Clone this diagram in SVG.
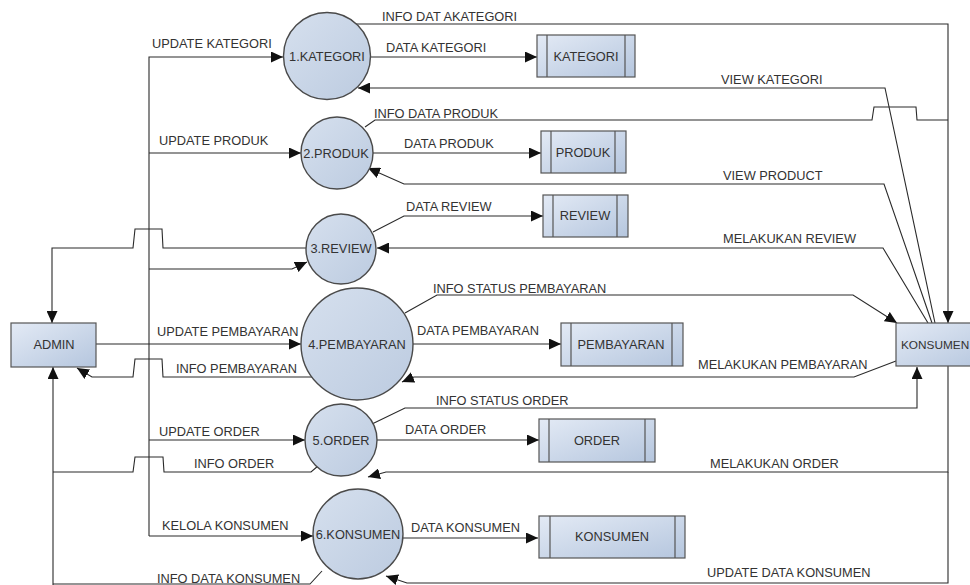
<svg xmlns="http://www.w3.org/2000/svg" width="970" height="585" viewBox="0 0 970 585">
  <defs>
    <linearGradient id="fillBox" x1="0" y1="0" x2="1" y2="1">
      <stop offset="0" stop-color="#e3eaf5"/>
      <stop offset="1" stop-color="#b5c6de"/>
    </linearGradient>
    <linearGradient id="fillProc" x1="0" y1="0" x2="1" y2="1">
      <stop offset="0" stop-color="#d6e0ee"/>
      <stop offset="1" stop-color="#bccbe0"/>
    </linearGradient>
    <marker id="arrow" markerUnits="userSpaceOnUse" markerWidth="13" markerHeight="11" refX="12" refY="5.5" orient="auto">
      <path d="M0,0 L12,5.5 L0,11 z" fill="#111"/>
    </marker>
    <style>
      .proc { fill: url(#fillProc); stroke: #4a4a4a; stroke-width: 1.4; }
      .ent { fill: url(#fillBox); stroke: #555; stroke-width: 1.2; }
      .store { fill: url(#fillBox); stroke: #555; stroke-width: 1.2; }
      .div { stroke: #555; stroke-width: 1.2; fill: none; }
      .flow { fill: none; stroke: #2a2a2a; stroke-width: 1.1; }
      .arr { marker-end: url(#arrow); }
      text { font-family: "Liberation Sans", Arial, sans-serif; font-size: 12.8px; fill: #333; }
      .c { text-anchor: middle; }
    </style>
  </defs>

  <rect width="970" height="585" fill="#fff"/>

  <!-- data flows -->
  <g id="connectors">
    <!-- admin side -->
    <path class="flow arr" d="M149,536 V57 H283"/>
    <path class="flow arr" d="M149,153 H301"/>
    <path class="flow arr" d="M149,269 H292 L307,262"/>
    <path class="flow arr" d="M149,440 H305"/>
    <path class="flow arr" d="M149,536 H313"/>
    <path class="flow arr" d="M96,344 H301"/>
    <path class="flow arr" d="M306,248 H163 L162,229 H135 L133,248 H52 V323"/>
    <path class="flow arr" d="M312,377 H163 L162,359 H135 L133,377 H92 L77,368"/>
    <path class="flow" d="M318,466 L311,472 H164 L163,457 H135 L133,472 H53"/>
    <path class="flow" d="M322,571 L310,584 H53"/>
    <path class="flow arr" d="M53,585 V367"/>

    <!-- process to store -->
    <path class="flow arr" d="M370,57 H537"/>
    <path class="flow arr" d="M373,153 H541"/>
    <path class="flow arr" d="M373,232 L404,216 H543"/>
    <path class="flow arr" d="M413,344 H561"/>
    <path class="flow arr" d="M377,440 H539"/>
    <path class="flow arr" d="M403,538 H538"/>

    <!-- konsumen side -->
    <path class="flow arr" d="M356,24 H948 V323"/>
    <path class="flow arr" d="M935,323 L885,88 H358"/>
    <path class="flow" d="M365,127 L375,120 H872 L874,107 H916 L917,120 H948"/>
    <path class="flow arr" d="M932,323 L884,184 H404 L368,168"/>
    <path class="flow arr" d="M928,323 L883,248 H377"/>
    <path class="flow arr" d="M405,313 L437,295 H853 L897,323"/>
    <path class="flow arr" d="M896,361 L854,377 H414 L402,382"/>
    <path class="flow arr" d="M372,424 L405,408 H917 V367"/>
    <path class="flow arr" d="M948,366 V472 H386 L368,477"/>
    <path class="flow arr" d="M948,472 V583 H407 L386,576"/>
  </g>

  <!-- flow labels -->
  <g id="labels">
    <text x="152" y="48">UPDATE KATEGORI</text>
    <text x="159" y="145">UPDATE PRODUK</text>
    <text x="382" y="21">INFO DAT AKATEGORI</text>
    <text x="386" y="52">DATA KATEGORI</text>
    <text x="374" y="118">INFO DATA PRODUK</text>
    <text x="404" y="148">DATA PRODUK</text>
    <text x="721" y="84">VIEW KATEGORI</text>
    <text x="723" y="180">VIEW PRODUCT</text>
    <text x="406" y="211">DATA REVIEW</text>
    <text x="723" y="243">MELAKUKAN REVIEW</text>
    <text x="433" y="293">INFO STATUS PEMBAYARAN</text>
    <text x="417" y="335">DATA PEMBAYARAN</text>
    <text x="157" y="336">UPDATE PEMBAYARAN</text>
    <text x="176" y="373">INFO PEMBAYARAN</text>
    <text x="698" y="369">MELAKUKAN PEMBAYARAN</text>
    <text x="436" y="405">INFO STATUS ORDER</text>
    <text x="159" y="436">UPDATE ORDER</text>
    <text x="194" y="468">INFO ORDER</text>
    <text x="405" y="434">DATA ORDER</text>
    <text x="710" y="468">MELAKUKAN ORDER</text>
    <text x="162" y="530">KELOLA KONSUMEN</text>
    <text x="411" y="532">DATA KONSUMEN</text>
    <text x="157" y="583">INFO DATA KONSUMEN</text>
    <text x="707" y="577">UPDATE DATA KONSUMEN</text>
  </g>

  <!-- external entities -->
  <g id="admin">
    <rect class="ent" x="11" y="323" width="85" height="44"/>
    <text class="c" x="54" y="349">ADMIN</text>
  </g>
  <g id="konsumen">
    <rect class="ent" x="896" y="323" width="94" height="43"/>
    <text x="901" y="349" style="font-size:11.8px">KONSUMEN</text>
  </g>

  <!-- processes -->
  <g id="p1">
    <circle class="proc" cx="327" cy="56" r="43.5"/>
    <text class="c" x="327" y="61">1.KATEGORI</text>
  </g>
  <g id="p2">
    <circle class="proc" cx="337" cy="153" r="36"/>
    <text class="c" x="336" y="158">2.PRODUK</text>
  </g>
  <g id="p3">
    <circle class="proc" cx="341" cy="249" r="35"/>
    <text class="c" x="341" y="253">3.REVIEW</text>
  </g>
  <g id="p4">
    <circle class="proc" cx="357" cy="344" r="56"/>
    <text class="c" x="357" y="349">4.PEMBAYARAN</text>
  </g>
  <g id="p5">
    <circle class="proc" cx="341" cy="440" r="36"/>
    <text class="c" x="341" y="445">5.ORDER</text>
  </g>
  <g id="p6">
    <circle class="proc" cx="358" cy="534" r="45"/>
    <text class="c" x="358" y="539">6.KONSUMEN</text>
  </g>

  <!-- data stores -->
  <g id="s-kategori">
    <rect class="store" x="537" y="35" width="98" height="42"/>
    <path class="div" d="M547,35 V77 M625,35 V77"/>
    <text class="c" x="586" y="61">KATEGORI</text>
  </g>
  <g id="s-produk">
    <rect class="store" x="541" y="131" width="85" height="42"/>
    <path class="div" d="M551,131 V173 M615,131 V173"/>
    <text class="c" x="583" y="157">PRODUK</text>
  </g>
  <g id="s-review">
    <rect class="store" x="543" y="195" width="85" height="42"/>
    <path class="div" d="M553,195 V237 M617,195 V237"/>
    <text class="c" x="585" y="220">REVIEW</text>
  </g>
  <g id="s-pembayaran">
    <rect class="store" x="561" y="323" width="122" height="43"/>
    <path class="div" d="M571,323 V366 M672,323 V366"/>
    <text class="c" x="621" y="349">PEMBAYARAN</text>
  </g>
  <g id="s-order">
    <rect class="store" x="539" y="419" width="116" height="43"/>
    <path class="div" d="M549,419 V462 M645,419 V462"/>
    <text class="c" x="597" y="445">ORDER</text>
  </g>
  <g id="s-konsumen">
    <rect class="store" x="539" y="516" width="146" height="42"/>
    <path class="div" d="M550,516 V558 M675,516 V558"/>
    <text class="c" x="612" y="541">KONSUMEN</text>
  </g>
</svg>
